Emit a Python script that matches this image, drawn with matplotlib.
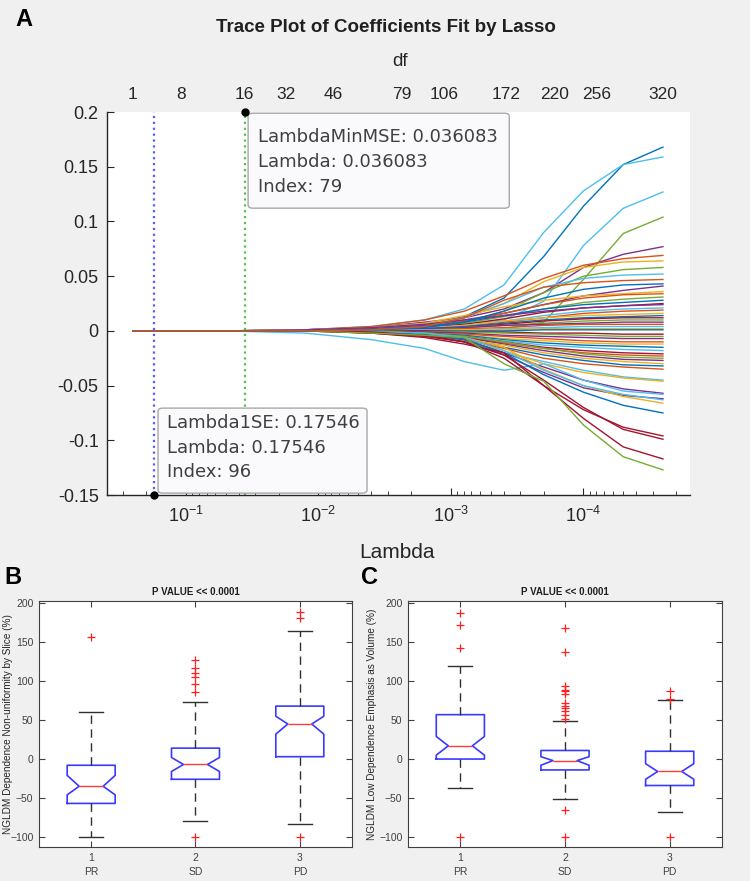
import numpy as np
import matplotlib
matplotlib.use('Agg')
import matplotlib.pyplot as plt
from matplotlib.patches import FancyBboxPatch

plt.rcParams['font.family'] = ['Liberation Sans', 'DejaVu Sans']

# ---- panel A data: lasso coefficient traces ----
lambdas = [0.2512, 0.05012, 0.01259, 0.003981, 0.001585, 0.0007943,
           0.0003981, 0.0001995, 0.0001, 5.012e-05, 2.512e-05]

traces = [
    [0, 0, 0.001, 0.003, 0.007, 0.013, 0.030, 0.068, 0.114, 0.152, 0.168],
    [0, 0, 0.001, 0.004, 0.010, 0.020, 0.042, 0.090, 0.128, 0.152, 0.159],
    [0, 0, 0, 0.002, 0.004, 0.006, 0.010, 0.027, 0.078, 0.112, 0.127],
    [0, 0, 0, 0, -0.002, -0.002, 0.002, 0.008, 0.047, 0.089, 0.104],
    [0, 0, 0.001, 0.003, 0.008, 0.012, 0.020, 0.035, 0.058, 0.070, 0.077],
    [0, 0, 0.001, 0.004, 0.010, 0.018, 0.032, 0.048, 0.060, 0.066, 0.069],
    [0, 0, 0, 0.002, 0.006, 0.012, 0.025, 0.045, 0.058, 0.063, 0.064],
    [0, 0, 0, 0.001, 0.003, 0.008, 0.018, 0.035, 0.050, 0.056, 0.058],
    [0, 0, 0.001, 0.002, 0.005, 0.012, 0.025, 0.040, 0.048, 0.051, 0.052],
    [0, 0, 0, 0.002, 0.005, 0.010, 0.016, 0.024, 0.032, 0.037, 0.041],
    [0, 0, 0.001, 0.003, 0.007, 0.014, 0.022, 0.028, 0.032, 0.034, 0.036],
    [0, 0, 0, 0.001, 0.004, 0.009, 0.016, 0.024, 0.030, 0.033, 0.034],
    [0, 0, 0, 0.001, 0.003, 0.007, 0.013, 0.020, 0.026, 0.029, 0.031],
    [0, 0, 0, 0.002, 0.004, 0.008, 0.014, 0.020, 0.024, 0.026, 0.028],
    [0, 0, 0, 0.001, 0.003, 0.006, 0.011, 0.017, 0.021, 0.023, 0.025],
    [0, 0, 0.001, 0.003, 0.006, 0.010, 0.014, 0.018, 0.021, 0.023, 0.024],
    [0, 0, 0, 0.001, 0.003, 0.005, 0.009, 0.014, 0.018, 0.020, 0.021],
    [0, 0, 0, 0.001, 0.002, 0.004, 0.008, 0.012, 0.016, 0.018, 0.019],
    [0, 0, 0, 0.001, 0.002, 0.005, 0.009, 0.012, 0.014, 0.015, 0.016],
    [0, 0, 0, 0, 0.002, 0.004, 0.007, 0.010, 0.012, 0.013, 0.014],
    [0, 0, 0, 0.001, 0.002, 0.003, 0.006, 0.009, 0.011, 0.012, 0.012],
    [0, 0, 0, 0, 0.001, 0.003, 0.005, 0.007, 0.009, 0.010, 0.010],
    [0, 0, 0, 0.001, 0.002, 0.003, 0.005, 0.006, 0.007, 0.008, 0.008],
    [0, 0, 0, 0, 0.001, 0.002, 0.003, 0.005, 0.006, 0.006, 0.006],
    [0, 0, 0, 0, 0.001, 0.001, 0.002, 0.003, 0.004, 0.004, 0.004],
    [0, 0, 0, 0, 0, 0.001, 0.001, 0.002, 0.002, 0.002, 0.002],
    [0, 0, 0, 0, 0, 0, 0, 0.001, 0.001, 0.001, 0.001],
    [0, 0, 0, 0, 0, -0.001, -0.001, -0.002, -0.002, -0.003, -0.003],
    [0, 0, 0, 0, -0.001, -0.001, -0.002, -0.003, -0.004, -0.005, -0.005],
    [0, 0, 0, 0, -0.001, -0.002, -0.004, -0.005, -0.006, -0.007, -0.007],
    [0, 0, 0, -0.001, -0.002, -0.003, -0.005, -0.007, -0.009, -0.010, -0.010],
    [0, 0, 0, -0.001, -0.002, -0.004, -0.007, -0.009, -0.011, -0.012, -0.012],
    [0, 0, 0, 0, -0.002, -0.004, -0.008, -0.011, -0.013, -0.014, -0.015],
    [0, 0, 0, -0.001, -0.003, -0.005, -0.009, -0.013, -0.015, -0.017, -0.018],
    [0, 0, 0, -0.001, -0.002, -0.005, -0.010, -0.015, -0.018, -0.020, -0.021],
    [0, 0, 0, -0.001, -0.003, -0.006, -0.011, -0.016, -0.020, -0.022, -0.023],
    [0, 0, 0, 0, -0.002, -0.005, -0.010, -0.016, -0.021, -0.024, -0.025],
    [0, 0, 0, -0.001, -0.003, -0.006, -0.012, -0.018, -0.023, -0.026, -0.027],
    [0, 0, 0, -0.002, -0.005, -0.008, -0.013, -0.020, -0.025, -0.028, -0.030],
    [0, 0, 0, -0.001, -0.003, -0.007, -0.015, -0.022, -0.027, -0.031, -0.032],
    [0, 0, 0, -0.001, -0.003, -0.008, -0.016, -0.025, -0.030, -0.033, -0.035],
    [0, 0, 0, -0.001, -0.004, -0.010, -0.020, -0.028, -0.036, -0.042, -0.045],
    [0, 0, 0, -0.001, -0.004, -0.009, -0.018, -0.030, -0.038, -0.043, -0.046],
    [0, 0, 0, -0.001, -0.003, -0.008, -0.020, -0.033, -0.045, -0.053, -0.057],
    [0, 0, -0.002, -0.008, -0.016, -0.028, -0.036, -0.030, -0.045, -0.055, -0.058],
    [0, 0, 0, -0.001, -0.004, -0.010, -0.022, -0.038, -0.052, -0.059, -0.062],
    [0, 0, 0, -0.001, -0.003, -0.006, -0.015, -0.035, -0.050, -0.060, -0.066],
    [0, 0, 0, -0.001, -0.003, -0.008, -0.020, -0.040, -0.056, -0.068, -0.075],
    [0, 0, 0, -0.001, -0.002, -0.006, -0.018, -0.036, -0.050, -0.058, -0.063],
    [0, 0, 0, -0.001, -0.004, -0.010, -0.025, -0.050, -0.072, -0.088, -0.096],
    [0, 0, 0, -0.002, -0.005, -0.010, -0.022, -0.045, -0.070, -0.090, -0.099],
    [0, 0, 0, -0.002, -0.006, -0.012, -0.020, -0.050, -0.080, -0.106, -0.117],
    [0, 0, 0, -0.002, -0.004, -0.006, -0.030, -0.046, -0.086, -0.115, -0.127],
    [0, 0, 0, 0.001, 0.003, 0.008, 0.018, 0.030, 0.038, 0.042, 0.043],
    [0, 0, 0, 0.001, 0.004, 0.012, 0.028, 0.040, 0.044, 0.046, 0.047],
]
trace_colors = 'bccgpoygcpyogbrpcoybrgpocybrgpoybcrogpybocypcpybcrrrgbo'

lambda_1se = 0.17546
lambda_min = 0.036083
df_labels = [1, 8, 16, 32, 46, 79, 106, 172, 220, 256, 320]
df_lambda = [0.2512, 0.1091, 0.036083, 0.01758, 0.00778, 0.002344,
             0.00113, 0.000385, 0.000164, 7.91e-05, 2.512e-05]

# ---- panels B and C data: boxplot summaries ----
groups = ['PR', 'SD', 'PD']
b_med = [-35, -7, 45]
b_q1 = [-57, -26, 3]
b_q3 = [-8, 14, 68]
b_lo = [-100, -80, -83]
b_hi = [60, 73, 164]
b_cilo = [-46, -16, 32]
b_cihi = [-21, 2, 55]
b_fliers = [[157], [127, 117, 111, 105, 97, 86, -100], [189, 181, -100]]

c_med = [17, -2, -16]
c_q1 = [0, -14, -34]
c_q3 = [57, 11, 10]
c_lo = [-37, -51, -68]
c_hi = [120, 49, 76]
c_cilo = [5, -8, -26]
c_cihi = [29, 3, -6]
c_fliers = [[188, 172, 143, -100],
            [168, 137, 94, 89, 87, 84, 72, 68, 66, 62, 56, 52, -66, -100],
            [88, 77, -100]]

mcol = {'b': '#0072BD', 'o': '#D95319', 'y': '#EDB120', 'p': '#7E2F8E',
        'g': '#77AC30', 'c': '#4DBEEE', 'r': '#A2142F'}
bg = '#f0f0f0'
axcol = '#262626'

fig = plt.figure(figsize=(7.5, 8.81), dpi=100, facecolor=bg)

# ---------------- panel A ----------------
ax = fig.add_axes([0.1427, 0.4381, 0.7773, 0.4347])
for vals, c in zip(traces, trace_colors):
    ax.plot(lambdas, vals, color=mcol[c], lw=1.0)
ax.set_xscale('log')
ax.set_xlim(0.3945, 1.57e-5)
ax.set_ylim(-0.15, 0.2)
ax.axvline(lambda_1se, color='#5a5aff', ls=':', lw=1.6, zorder=1)
ax.axvline(lambda_min, color='#55c055', ls=':', lw=1.6, zorder=1)
for s in ['top', 'right']:
    ax.spines[s].set_visible(False)
for s in ['left', 'bottom']:
    ax.spines[s].set_color(axcol)
    ax.spines[s].set_linewidth(1.0)
ax.set_yticks([-0.15, -0.1, -0.05, 0, 0.05, 0.1, 0.15, 0.2])
ax.set_yticklabels(['-0.15', '-0.1', '-0.05', '0', '0.05', '0.1', '0.15', '0.2'])
ax.tick_params(axis='y', direction='in', length=5, labelsize=13, pad=6, colors=axcol)
ax.tick_params(axis='x', which='major', direction='in', length=5, labelsize=13, pad=8, colors=axcol)
ax.tick_params(axis='x', which='minor', direction='in', length=3, colors=axcol)

ax2 = ax.twiny()
ax2.set_xscale('log')
ax2.set_xlim(ax.get_xlim())
ax2.set_xticks(df_lambda)
ax2.set_xticklabels([str(d) for d in df_labels])
ax2.minorticks_off()
ax2.tick_params(axis='x', length=0, labelsize=12.5, pad=7, colors=axcol)
for s in ax2.spines.values():
    s.set_visible(False)

# datatips
tip_kw = dict(boxstyle='round,pad=0,rounding_size=0.008', transform=ax.transAxes,
              fc='#fafafc', ec='#a8a8a8', lw=1.0, zorder=5, clip_on=False)
ax.add_patch(FancyBboxPatch((0.242, 0.749), 0.448, 0.248, **tip_kw))
ax.add_patch(FancyBboxPatch((0.0875, 0.005), 0.3585, 0.222, **tip_kw))
tip_txt = dict(transform=ax.transAxes, va='center', ha='left', fontsize=13,
               color='#404040', family='DejaVu Sans', zorder=6)
ax.text(0.259, 0.935, 'LambdaMinMSE: %.6f' % lambda_min, **tip_txt)
ax.text(0.259, 0.869, 'Lambda: %.6f' % lambda_min, **tip_txt)
ax.text(0.259, 0.804, 'Index: 79', **tip_txt)
ax.text(0.103, 0.188, 'Lambda1SE: %.5f' % lambda_1se, **tip_txt)
ax.text(0.103, 0.123, 'Lambda: %.5f' % lambda_1se, **tip_txt)
ax.text(0.103, 0.060, 'Index: 96', **tip_txt)
ax.plot([lambda_1se], [-0.15], 'o', color='k', ms=5, clip_on=False, zorder=7)
ax.plot([lambda_min], [0.2], 'o', color='k', ms=5, clip_on=False, zorder=7)

fig.text(386 / 750, 1 - 27 / 881, 'Trace Plot of Coefficients Fit by Lasso',
         ha='center', va='center', fontsize=13.5, fontweight='bold', color='#202020')
fig.text(400 / 750, 1 - 62 / 881, 'df', ha='center', va='center', fontsize=13.5, color=axcol)
fig.text(397 / 750, 1 - 552 / 881, 'Lambda', ha='center', va='center', fontsize=15, color=axcol)

# ---------------- panels B and C ----------------
def box_panel(rect, med, q1, q3, lo, hi, cilo, cihi, fliers, ylabel, lab_x):
    bx = fig.add_axes(rect)
    stats = []
    for i in range(3):
        stats.append(dict(med=med[i], q1=q1[i], q3=q3[i], whislo=lo[i], whishi=hi[i],
                          cilo=cilo[i], cihi=cihi[i], fliers=fliers[i]))
    bx.bxp(stats, positions=[1, 2, 3], widths=0.46, shownotches=True,
           boxprops=dict(color='#3a3aff', lw=1.2),
           medianprops=dict(color='#ff3a3a', lw=1.0),
           whiskerprops=dict(color='#303030', lw=1.0, ls=(0, (6, 4))),
           capprops=dict(color='#303030', lw=1.0),
           flierprops=dict(marker='+', markeredgecolor='#ff2020', markersize=6,
                           markeredgewidth=0.9, linestyle='none'))
    bx.set_xlim(0.5, 3.5)
    bx.set_ylim(-113, 203)
    bx.set_yticks([-100, -50, 0, 50, 100, 150, 200])
    bx.set_xticks([1, 2, 3])
    bx.set_xticklabels(['%d\n%s' % (i + 1, g) for i, g in enumerate(groups)],
                       linespacing=1.5)
    bx.tick_params(direction='in', length=4, top=True, right=True,
                   labelsize=7.5, colors='#404040', pad=4)
    for s in bx.spines.values():
        s.set_color('#404040')
        s.set_linewidth(0.8)
    bx.set_facecolor('white')
    bx.set_ylabel(ylabel, fontsize=7.2, color='#262626')
    bx.yaxis.set_label_coords(lab_x, 0.5)
    bx.set_title('P VALUE << 0.0001', fontsize=7, fontweight='bold', pad=4, color='#202020')
    return bx

box_panel([0.052, 0.0386, 0.4173, 0.2792], b_med, b_q1, b_q3, b_lo, b_hi,
          b_cilo, b_cihi, b_fliers, 'NGLDM Dependence Non-uniformity by Slice (%)', -0.083)
box_panel([0.544, 0.0386, 0.4187, 0.2792], c_med, c_q1, c_q3, c_lo, c_hi,
          c_cilo, c_cihi, c_fliers, 'NGLDM Low Dependence Emphasis as Volume (%)', -0.1)

fig.text(0.02, 1 - 20 / 881, 'A', fontsize=17, fontweight='bold', ha='left', va='center')
fig.text(0.006, 1 - 577 / 881, 'B', fontsize=17, fontweight='bold', ha='left', va='center')
fig.text(0.482, 1 - 577 / 881, 'C', fontsize=17, fontweight='bold', ha='left', va='center')

fig.savefig('out.png', dpi=100, facecolor=bg)
